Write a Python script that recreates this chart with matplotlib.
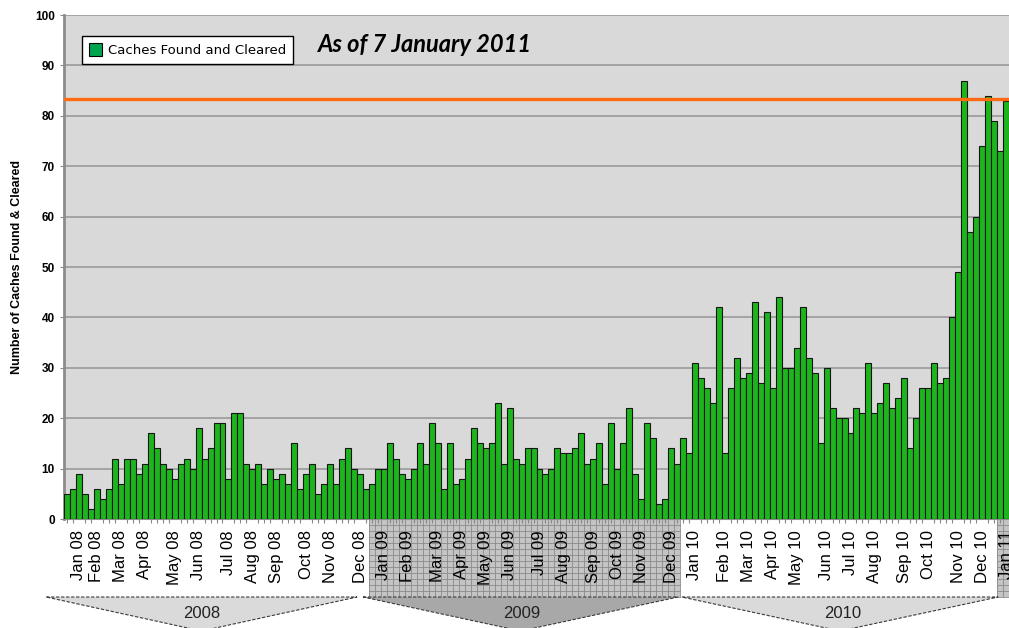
import matplotlib
matplotlib.use('Agg')
import matplotlib.pyplot as plt
from matplotlib.patches import Rectangle, Polygon, Patch
from matplotlib.lines import Line2D
from matplotlib.transforms import blended_transform_factory
import numpy as np

# weekly caches found and cleared, Jan 2008 - Jan 2011
caches = [5, 6, 9, 5, 2, 6, 4, 6, 12, 7, 12, 12, 9, 11, 17, 14, 11, 10, 8, 11,
          12, 10, 18, 12, 14, 19, 19, 8, 21, 21, 11, 10, 11, 7, 10, 8, 9, 7, 15, 6,
          9, 11, 5, 7, 11, 7, 12, 14, 10, 9, 6, 7,
          10, 10, 15, 12, 9, 8, 10, 15, 11, 19, 15, 6, 15, 7, 8, 12, 18, 15,
          14, 15, 23, 11, 22, 12, 11, 14, 14, 10, 9, 10, 14, 13, 13, 14, 17, 11,
          12, 15, 7, 19, 10, 15, 22, 9, 4, 19, 16, 3, 4, 14, 11,
          16, 13, 31, 28, 26, 23, 42, 13, 26, 32, 28, 29, 43, 27, 41, 26, 44, 30,
          30, 34, 42, 32, 29, 15, 30, 22, 20, 20, 17, 22, 21, 31, 21, 23, 27, 22,
          24, 28, 14, 20, 26, 26, 31, 27, 28, 40, 49, 87, 57, 60, 74, 84, 79, 73, 83]

month_labels = ['Jan 08', 'Feb 08', 'Mar 08', 'Apr 08', 'May 08', 'Jun 08', 'Jul 08',
                'Aug 08', 'Sep 08', 'Oct 08', 'Nov 08', 'Dec 08',
                'Jan 09', 'Feb 09', 'Mar 09', 'Apr 09', 'May 09', 'Jun 09', 'Jul 09',
                'Aug 09', 'Sep 09', 'Oct 09', 'Nov 09', 'Dec 09',
                'Jan 10', 'Feb 10', 'Mar 10', 'Apr 10', 'May 10', 'Jun 10', 'Jul 10',
                'Aug 10', 'Sep 10', 'Oct 10', 'Nov 10', 'Dec 10', 'Jan 11']
month_weeks = [2, 5, 9, 13, 18, 22, 27, 31, 35, 40, 44, 49,
               53, 57, 62, 66, 70, 74, 79, 83, 88, 92, 96, 101,
               105, 110, 114, 118, 122, 127, 131, 135, 140, 144, 149, 153, 157]

years = ['2008', '2009', '2010']
year_spans = [(-3.5, 48.5), (49.5, 102.2), (102.8, 155.7)]
target = 83.3

W, H = 1009, 628
fig = plt.figure(figsize=(W / 100, H / 100), dpi=100)
ax = fig.add_axes([64 / W, 109 / H, 945 / W, 504 / H])
ax.set_facecolor('#d9d9d9')

x = np.arange(len(caches))
ax.bar(x, caches, width=1.0, color='#1db51d', edgecolor='#151515', linewidth=0.8, zorder=3)
ax.axhline(target, color='#ff6a13', lw=2.4, zorder=4)

ax.set_xlim(-0.5, len(caches) - 0.5)
ax.set_ylim(0, 100)
ax.set_yticks(range(0, 101, 10))
ax.yaxis.grid(True, color='#a3a3a3', lw=1.4)
ax.set_axisbelow(True)
for s in ['top', 'right']:
    ax.spines[s].set_visible(False)
ax.spines['left'].set_color('#8c8c8c')
ax.spines['left'].set_linewidth(2)
ax.spines['bottom'].set_color('#8c8c8c')
ax.spines['bottom'].set_linewidth(1.5)

ax.set_xticks(month_weeks)
ax.set_xticklabels(month_labels, rotation=90, fontsize=12, family='Liberation Sans')
ax.set_xticks(x, minor=True)
ax.tick_params(axis='x', which='major', length=0, pad=8)
ax.tick_params(axis='x', which='minor', length=3, color='#888888', width=0.8)
ax.tick_params(axis='y', length=3, color='#888888', labelsize=8.5)
for lab in ax.get_yticklabels():
    lab.set_fontweight('bold')
    lab.set_family('Liberation Sans')
ax.set_ylabel('Number of Caches Found & Cleared', fontsize=9, fontweight='bold',
              family='Liberation Sans', labelpad=9)

# hatched grid behind 2009 and 2011 month labels
trans = blended_transform_factory(ax.transData, fig.transFigure)
y_lo, y_hi = (H - 597) / H, (H - 520) / H
for a, b in [(50.5, 102.5), (155.5, 157.5)]:
    fig.add_artist(Rectangle((a, y_lo), b - a, y_hi - y_lo, transform=trans,
                             facecolor='#c4c4c4', edgecolor='none', zorder=-2))
    for k in np.arange(a, b + 0.01, 1.0):
        fig.add_artist(Line2D([k, k], [y_lo, y_hi], transform=trans, color='#8a8a8a',
                              lw=0.6, zorder=-1))
    for yy in np.arange(y_lo, y_hi, 6 / H):
        fig.add_artist(Line2D([a, b], [yy, yy], transform=trans, color='#8a8a8a',
                              lw=0.6, zorder=-1))

# year chevrons along the bottom
top = (H - 597) / H
tip = (H - 631) / H
for yr, (a, b), fc in zip(years, year_spans, ['#dadada', '#a8a8a8', '#dadada']):
    mid = (a + b) / 2
    poly = Polygon([(a, top), (b, top), (mid, tip)], closed=True,
                   transform=trans, facecolor=fc, edgecolor='#3a3a3a', lw=0.8,
                   linestyle=(0, (3, 1.5)), zorder=-1)
    fig.add_artist(poly)
    fig.text(64 / W + (mid + 0.5) * 6 / W, (H - 613) / H, yr, ha='center', va='center',
             fontsize=12, family='Liberation Sans', color='#222222')

leg = ax.legend(handles=[Patch(facecolor='#00a550', edgecolor='black', lw=0.8,
                               label='Caches Found and Cleared')],
                loc='upper left', bbox_to_anchor=(0.012, 0.971), fancybox=False,
                framealpha=1, edgecolor='black', fontsize=9.5, handlelength=1.0,
                handleheight=1.2, handletextpad=0.5, borderpad=0.5)
leg.get_frame().set_linewidth(1.0)
leg.set_zorder(5)

fig.text(318 / W, (H - 45) / H, 'As of 7 January 2011', fontsize=17, fontweight='bold',
         style='italic', family='Lato', va='center', ha='left')

fig.savefig('out.png', dpi=100)
